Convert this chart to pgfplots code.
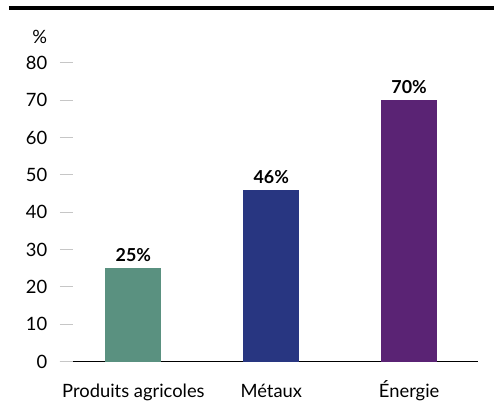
\documentclass[border=0pt]{standalone}
\usepackage{pgfplots}
\pgfplotsset{compat=1.18}
\usepackage{fontspec}
\setmainfont{Lato}
\definecolor{cgreen}{HTML}{5A9180}
\definecolor{cblue}{HTML}{283681}
\definecolor{cpurple}{HTML}{5A2374}
\newcommand{\fs}{\fontsize{18.5}{22}\selectfont}
\begin{document}
\begin{tikzpicture}[x=1bp,y=1bp]
\path (0,0) rectangle (496,410);
\draw[line width=4bp] (9,401.5) -- (496,401.5);
\begin{axis}[
  at={(60bp,47bp)}, anchor=south west,
  scale only axis, width=420bp, height=300bp,
  xmin=-0.534, xmax=2.5, ymin=0, ymax=80,
  axis x line*=bottom, axis y line=none,
  x axis line style={-, line width=1.2bp},
  xtick={0,1,2}, xticklabels={Produits agricoles, Métaux, Énergie},
  xtick style={draw=none},
  xticklabel style={font=\fs, anchor=base, yshift=-32bp},
  ybar, bar width=56bp, bar shift=0pt,
  nodes near coords={\textbf{\pgfmathprintnumber[assume math mode=true]{\pgfplotspointmeta}\%}},
  nodes near coords style={font=\fontsize{18}{22}\selectfont, yshift=3bp},
  clip=false,
]
\addplot[fill=cgreen, draw=none] coordinates {(0,25)};
\addplot[fill=cblue, draw=none] coordinates {(1,46)};
\addplot[fill=cpurple, draw=none] coordinates {(2,70)};
\end{axis}
\begin{axis}[
  at={(60bp,47bp)}, anchor=south west,
  scale only axis, width=420bp, height=300bp,
  xmin=-0.534, xmax=2.5, ymin=0, ymax=80,
  axis x line=none, axis y line*=left,
  y axis line style={draw=none},
  ytick={0,10,...,80},
  ytick style={draw=gray!45, line width=0.8bp},
  tick align=inside, major tick length=13bp,
  yticklabel style={font=\fs, xshift=-9bp},
  /pgf/number format/assume math mode=true,
  clip=false,
]
\addplot[draw=none] coordinates {(0,0)};
\end{axis}
\node[font=\fs, anchor=base] at (40,366) {\%};
\end{tikzpicture}
\end{document}
